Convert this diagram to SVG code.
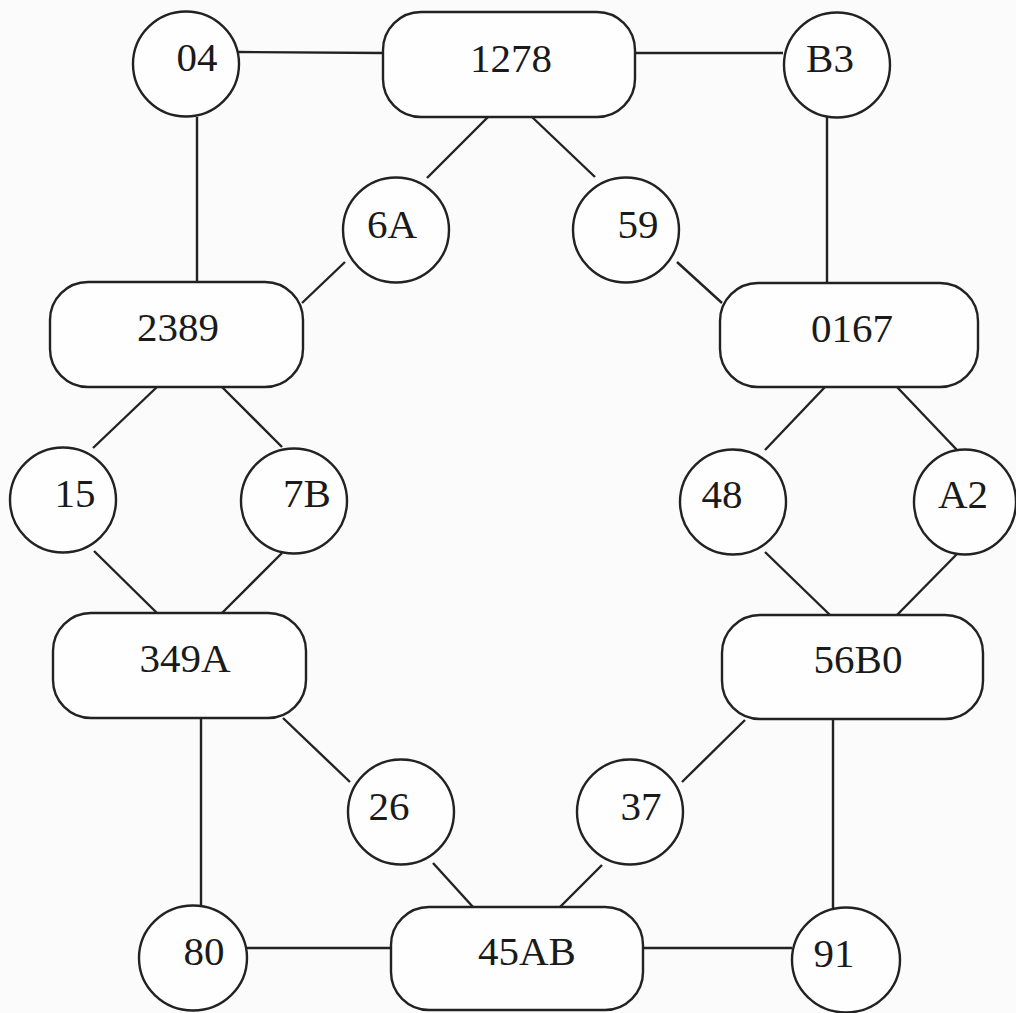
<svg xmlns="http://www.w3.org/2000/svg" width="1016" height="1013" viewBox="0 0 1016 1013">
<style>
.n{fill:#fefefe;stroke:#222;stroke-width:2.4}
.e line{stroke:#222;stroke-width:2.4}
text{font-family:"Liberation Serif","Times New Roman",serif;font-size:41px;fill:#1a1a1a;text-anchor:middle}
</style>
<rect width="1016" height="1013" fill="#fbfbfb"/>
<g class="e" id="connectors">
<line x1="238" y1="52" x2="383" y2="53"/>
<line x1="635" y1="53" x2="783" y2="53"/>
<line x1="197" y1="117" x2="197" y2="282"/>
<line x1="827" y1="117" x2="827" y2="283"/>
<line x1="488" y1="117" x2="427" y2="178"/>
<line x1="532" y1="117" x2="595" y2="177"/>
<line x1="345" y1="262" x2="302" y2="303"/>
<line x1="677" y1="262" x2="722" y2="303"/>
<line x1="157" y1="387" x2="93" y2="448"/>
<line x1="222" y1="387" x2="282" y2="447"/>
<line x1="825" y1="387" x2="765" y2="450"/>
<line x1="897" y1="387" x2="957" y2="450"/>
<line x1="94" y1="551" x2="157" y2="613"/>
<line x1="282" y1="553" x2="222" y2="613"/>
<line x1="765" y1="552" x2="830" y2="615"/>
<line x1="957" y1="554" x2="897" y2="615"/>
<line x1="201" y1="718" x2="201" y2="905"/>
<line x1="283" y1="718" x2="350" y2="782"/>
<line x1="745" y1="720" x2="682" y2="782"/>
<line x1="833" y1="720" x2="833" y2="908"/>
<line x1="433" y1="863" x2="473" y2="907"/>
<line x1="602" y1="865" x2="560" y2="907"/>
<line x1="246" y1="948" x2="391" y2="948"/>
<line x1="643" y1="948" x2="792" y2="948"/>
</g>
<g id="n04"><ellipse class="n" cx="186" cy="64" rx="53" ry="52.5"/><text x="197" y="71">04</text></g>
<g id="n1278"><rect class="n" x="383" y="12" width="252" height="105" rx="38"/><text x="511" y="72">1278</text></g>
<g id="nB3"><ellipse class="n" cx="837" cy="65" rx="53" ry="52.5"/><text x="830" y="72">B3</text></g>
<g id="n6A"><ellipse class="n" cx="396" cy="230" rx="53" ry="52.5"/><text x="392" y="238">6A</text></g>
<g id="n59"><ellipse class="n" cx="626" cy="230" rx="53" ry="52.5"/><text x="638" y="238">59</text></g>
<g id="n2389"><rect class="n" x="50" y="282" width="253" height="105" rx="38"/><text x="178" y="341">2389</text></g>
<g id="n0167"><rect class="n" x="720" y="283" width="258" height="104" rx="38"/><text x="852" y="342">0167</text></g>
<g id="n15"><ellipse class="n" cx="63" cy="500" rx="53" ry="52.5"/><text x="75" y="507">15</text></g>
<g id="n7B"><ellipse class="n" cx="294" cy="501" rx="53" ry="52.5"/><text x="307" y="507">7B</text></g>
<g id="n48"><ellipse class="n" cx="733" cy="502" rx="53" ry="52.5"/><text x="722" y="508">48</text></g>
<g id="nA2"><ellipse class="n" cx="965" cy="502" rx="51" ry="52.5"/><text x="963" y="508">A2</text></g>
<g id="n349A"><rect class="n" x="53" y="613" width="253" height="105" rx="38"/><text x="185" y="672">349A</text></g>
<g id="n56B0"><rect class="n" x="722" y="615" width="261" height="104" rx="38"/><text x="858" y="673">56B0</text></g>
<g id="n26"><ellipse class="n" cx="401" cy="812" rx="53" ry="52.5"/><text x="389" y="820">26</text></g>
<g id="n37"><ellipse class="n" cx="630" cy="812" rx="53" ry="52.5"/><text x="641" y="820">37</text></g>
<g id="n80"><ellipse class="n" cx="193" cy="958" rx="54" ry="52.5"/><text x="204" y="965">80</text></g>
<g id="n45AB"><rect class="n" x="391" y="907" width="252" height="103" rx="38"/><text x="527" y="965">45AB</text></g>
<g id="n91"><ellipse class="n" cx="846" cy="960" rx="54" ry="52.5"/><text x="834" y="967">91</text></g>
</svg>
